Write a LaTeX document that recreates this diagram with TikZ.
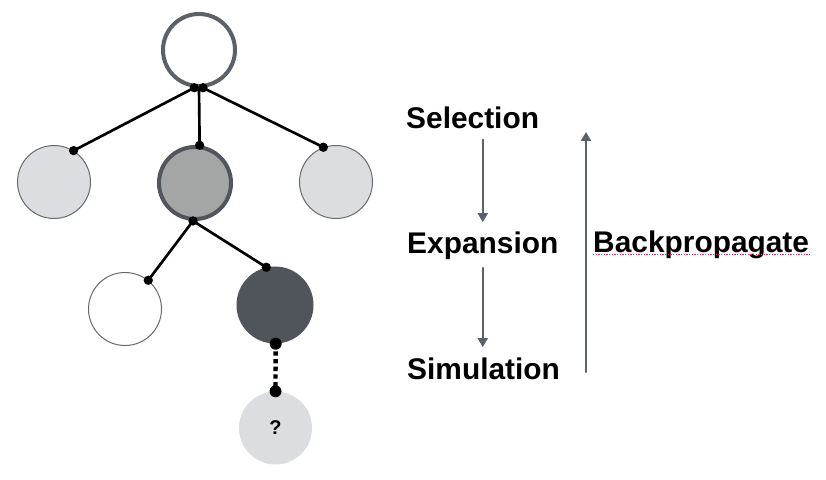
\documentclass[tikz,border=0pt]{standalone}
\usepackage{fontspec}
\setmainfont{Liberation Sans}
\usetikzlibrary{arrows.meta}
\definecolor{rimgray}{HTML}{5B6169}
\definecolor{darkrim}{HTML}{50565C}
\definecolor{midfill}{HTML}{A3A6A4}
\definecolor{lightfill}{HTML}{DCDDE0}
\definecolor{thingray}{HTML}{67696D}
\definecolor{darkfill}{HTML}{50555C}
\definecolor{arrowgray}{HTML}{5A6068}
\definecolor{spellred}{HTML}{D83C3C}
\begin{document}
\begin{tikzpicture}[x=0.03cm, y=-0.03cm, line join=round, line cap=round,
    state/.style={circle, inner sep=0, minimum size=2.19cm},
    thickrim/.style={state, line width=0.12cm, minimum size=2.16cm},
    thinrim/.style={state, draw=thingray, line width=0.03cm},
    branch/.style={line width=0.08cm, black},
    flow/.style={-{Triangle[width=0.3cm,length=0.27cm]}, line width=0.06cm, draw=arrowgray, fill=arrowgray, shorten <=0.3cm, shorten >=0.3cm},
    stepname/.style={anchor=base west, inner sep=0, font=\bfseries\fontsize{25.5}{30}\selectfont}]
    \fill[white] (0,0) rectangle (826,480);
    \useasboundingbox (0,0) rectangle (826,480);
    % tree
    \node[thickrim, draw=rimgray, fill=white] (root) at (199,50) {};
    \node[thinrim, fill=lightfill] (a) at (54,182) {};
    \node[thickrim, draw=darkrim, fill=midfill] (b) at (195,183) {};
    \node[thinrim, fill=lightfill] (c) at (336,182) {};
    \node[thinrim, fill=white] (d) at (125,309) {};
    \node[state, fill=darkfill, minimum size=2.31cm] (e) at (275,305) {};
    \node[state, fill=lightfill, font=\bfseries\fontsize{17}{20}\selectfont] (q) at (275.5,428) {?};
    \draw[branch] (root.263) -- (a.58);
    \draw[branch] (root.270) -- (b.83);
    \draw[branch] (root.276) -- (c.110);
    \draw[branch] (b.267) -- (d.51);
    \draw[branch] (b.267) -- (e.103);
    \draw[branch, line width=0.13cm, line cap=butt, dash pattern=on 0.13cm off 0.1cm] (e.271) -- (q.90);
    \foreach \p in {root.263,root.276,a.58,b.83,c.110,b.267,d.51,e.103}
        \fill (\p) circle (0.14cm);
    \foreach \p in {e.271,q.90}
        \fill (\p) circle (0.18cm);
    % steps
    \node[stepname] (sel) at (406,129) {Selection};
    \node[stepname] (exp) at (407,254) {Expansion};
    \node[stepname] (sim) at (407,379) {Simulation};
    \node[stepname] (back) at (593,253) {Backpropagate};
    \draw[flow] (exp.north |- sel.south) -- (exp.north);
    \draw[flow, shorten <=0.22cm] (exp.south) -- (exp.south |- sim.north);
    \coordinate (up1) at (586,372);
    \coordinate (up2) at (586,132);
    \draw[flow, shorten <=0pt, shorten >=0pt] (up1) -- (up2);
    \draw[spellred, line width=0.04cm, dash pattern=on 0.04cm off 0.04cm, line cap=butt] ([yshift=-0.05cm]back.base west) -- ([yshift=-0.05cm]back.base east);
\end{tikzpicture}
\end{document}
